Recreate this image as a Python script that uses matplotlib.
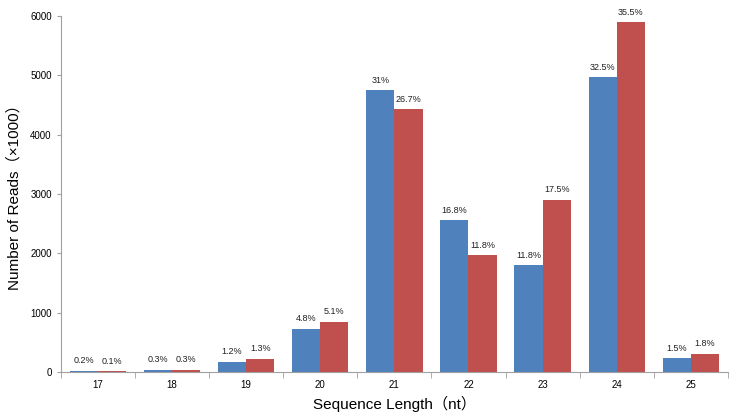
import matplotlib

matplotlib.use("Agg")
import matplotlib.pyplot as plt
import numpy as np

LENGTHS = ["17", "18", "19", "20", "21", "22", "23", "24", "25"]
BLUE_READS = [20, 40, 170, 725, 4750, 2560, 1800, 4965, 230]
RED_READS = [15, 40, 220, 843, 4430, 1970, 2900, 5890, 305]
BLUE_PCT = ["0.2%", "0.3%", "1.2%", "4.8%", "31%", "16.8%", "11.8%", "32.5%", "1.5%"]
RED_PCT = ["0.1%", "0.3%", "1.3%", "5.1%", "26.7%", "11.8%", "17.5%", "35.5%", "1.8%"]
Y_TICKS = [0, 1000, 2000, 3000, 4000, 5000, 6000]

FAMILY = ["Liberation Sans", "Noto Sans CJK SC", "DejaVu Sans"]
plt.rcParams["font.family"] = FAMILY

fig = plt.figure(figsize=(7.33, 4.18), dpi=100, facecolor="white")
ax = fig.add_axes([0.083, 0.110, 0.910, 0.852])

x = np.arange(len(LENGTHS))
width = 0.38
blue = ax.bar(x - width / 2, BLUE_READS, width, color="#4F81BD")
red = ax.bar(x + width / 2, RED_READS, width, color="#C0504D")

for bars, labels in ((blue, BLUE_PCT), (red, RED_PCT)):
    for bar, text in zip(bars, labels):
        ax.annotate(
            text,
            (bar.get_x() + bar.get_width() / 2, bar.get_height()),
            xytext=(0, 4),
            textcoords="offset points",
            ha="center",
            va="bottom",
            fontsize=6.5,
            color="#222222",
        )

ax.set_xlim(-0.5, len(LENGTHS) - 0.5)
ax.set_ylim(0, 6000)
ax.set_yticks(Y_TICKS)
ax.set_xticks(x)
ax.set_xticklabels(LENGTHS)
ax.set_xticks(np.arange(len(LENGTHS) + 1) - 0.5, minor=True)
ax.tick_params(axis="x", which="major", length=0, labelsize=7, pad=6)
ax.tick_params(axis="x", which="minor", length=4, color="#A0A0A0")
ax.tick_params(axis="y", length=3, color="#A0A0A0", labelsize=7)

ax.spines[["top", "right"]].set_visible(False)
ax.spines[["left", "bottom"]].set_color("#A0A0A0")

ax.set_xlabel("Sequence Length（nt）", fontsize=11, labelpad=4)
ax.set_ylabel("Number of Reads（×1000）", fontsize=11, labelpad=6)

fig.savefig("out.png", dpi=100)
